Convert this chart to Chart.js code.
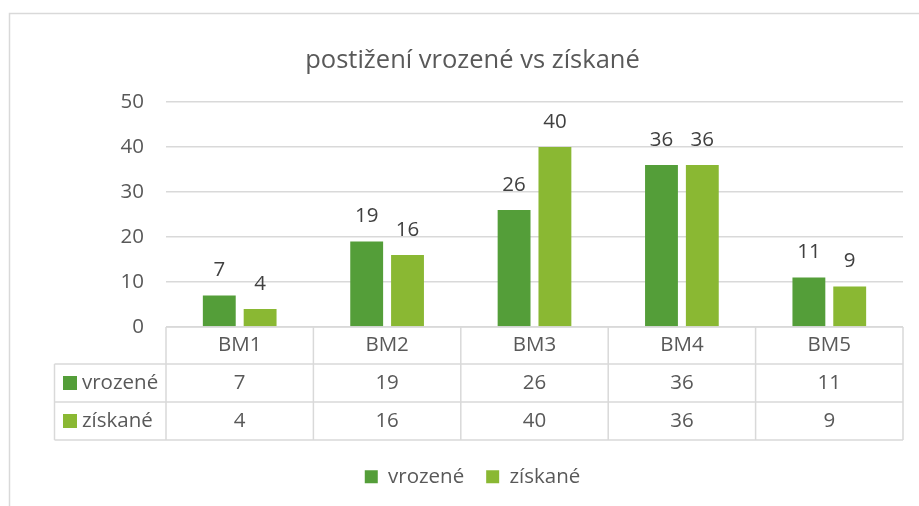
<!DOCTYPE html>
<html>
<head>
<meta charset="utf-8">
<script src="https://cdn.jsdelivr.net/npm/chart.js@4.4.1/dist/chart.umd.min.js"></script>
<style>
    html, body { margin: 0; padding: 0; background: #fff; }
    #chart-container { width: 919px; height: 506px; position: relative; }
</style>
</head>
<body>
<div id="chart-container"><canvas id="myChart"></canvas></div>
<script>
const chartTitle = 'postižení vrozené vs získané';
const categories = ['BM1', 'BM2', 'BM3', 'BM4', 'BM5'];
const seriesNames = ['vrozené', 'získané'];
const vrozeneData = [7, 19, 26, 36, 11];
const ziskaneData = [4, 16, 40, 36, 9];
const yTicks = [0, 10, 20, 30, 40, 50];

const colors = ['#549E39', '#8AB833'];
const gridColor = '#D9D9D9';
const textColor = '#595959';
const fontFamily = '"Open Sans", sans-serif';
const fontSize = 20.5;

// outer chart frame (Excel chart border)
const framePlugin = {
    id: 'frame',
    beforeDraw(chart) {
        const ctx = chart.ctx;
        ctx.save();
        ctx.fillStyle = '#fff';
        ctx.fillRect(0, 0, chart.width, chart.height);
        ctx.strokeStyle = gridColor;
        ctx.lineWidth = 1.5;
        ctx.strokeRect(9.5, 13.5, chart.width + 20, chart.height + 20);
        ctx.restore();
    }
};

// value labels above bars
const labelPlugin = {
    id: 'barLabels',
    afterDatasetsDraw(chart) {
        const ctx = chart.ctx;
        ctx.save();
        ctx.fillStyle = '#404040';
        ctx.font = `${fontSize}px ${fontFamily}`;
        ctx.textAlign = 'center';
        ctx.textBaseline = 'middle';
        chart.data.datasets.forEach((ds, di) => {
            chart.getDatasetMeta(di).data.forEach((bar, i) => {
                ctx.fillText(String(ds.data[i]), bar.x, bar.y - 25);
            });
        });
        ctx.restore();
    }
};

// data table under the plot
const tablePlugin = {
    id: 'dataTable',
    afterDraw(chart) {
        const ctx = chart.ctx;
        const x = chart.scales.x;
        const area = chart.chartArea;
        const rows = [area.bottom, area.bottom + 37, area.bottom + 75, area.bottom + 113];
        const nameLeft = 54.5;
        const n = categories.length;
        const edges = [];
        for (let i = 0; i <= n; i++) edges.push(x.getPixelForValue(i - 0.5));

        ctx.save();
        ctx.strokeStyle = gridColor;
        ctx.lineWidth = 1.5;
        ctx.beginPath();
        // horizontal lines
        ctx.moveTo(edges[0], rows[0]); ctx.lineTo(edges[n], rows[0]);
        for (let r = 1; r < rows.length; r++) {
            ctx.moveTo(nameLeft, rows[r]); ctx.lineTo(edges[n], rows[r]);
        }
        // vertical lines
        edges.forEach(e => { ctx.moveTo(e, rows[0]); ctx.lineTo(e, rows[3]); });
        ctx.moveTo(nameLeft, rows[1]); ctx.lineTo(nameLeft, rows[3]);
        ctx.stroke();

        ctx.font = `${fontSize}px ${fontFamily}`;
        ctx.fillStyle = textColor;
        ctx.textBaseline = 'middle';
        ctx.textAlign = 'center';
        categories.forEach((c, i) => {
            ctx.fillText(c, x.getPixelForValue(i), (rows[0] + rows[1]) / 2);
        });
        chart.data.datasets.forEach((ds, di) => {
            const cy = (rows[di + 1] + rows[di + 2]) / 2;
            ds.data.forEach((v, i) => {
                ctx.fillStyle = textColor;
                ctx.textAlign = 'center';
                ctx.fillText(String(v), x.getPixelForValue(i), cy);
            });
            ctx.fillStyle = ds.backgroundColor;
            ctx.fillRect(63, cy - 7, 14, 14);
            ctx.fillStyle = textColor;
            ctx.textAlign = 'left';
            ctx.fillText(ds.label, 82, cy);
        });
        ctx.restore();
    }
};

const ctx = document.getElementById('myChart').getContext('2d');
const chart = new Chart(ctx, {
    type: 'bar',
    data: {
        labels: categories,
        datasets: [
            { label: seriesNames[0], data: vrozeneData, backgroundColor: colors[0] },
            { label: seriesNames[1], data: ziskaneData, backgroundColor: colors[1] }
        ]
    },
    options: {
        responsive: true,
        maintainAspectRatio: false,
        animation: false,
        categoryPercentage: 0.554,
        barPercentage: 0.805,
        // title and legend are centred on the frame, which runs past the right edge
        layout: { padding: { left: 26, right: 0, top: 0, bottom: 9 } },
        plugins: {
            title: {
                display: true,
                text: chartTitle,
                color: textColor,
                font: { family: fontFamily, size: 25.5, weight: 'normal' },
                padding: { top: 45.7, bottom: 25.7 }
            },
            legend: {
                position: 'bottom',
                labels: {
                    boxWidth: 13,
                    boxHeight: 13,
                    padding: 22,
                    color: textColor,
                    font: { family: fontFamily, size: fontSize }
                }
            },
            tooltip: { enabled: false }
        },
        scales: {
            x: {
                grid: { display: false },
                border: { display: false },
                ticks: { display: false },
                afterFit(scale) { scale.height = 117.5; }
            },
            y: {
                min: yTicks[0],
                max: yTicks[yTicks.length - 1],
                afterBuildTicks(scale) { scale.ticks = yTicks.map(v => ({ value: v })); },
                grid: { color: gridColor, lineWidth: 1.5, drawTicks: false },
                border: { display: false },
                ticks: {
                    padding: 22,
                    color: textColor,
                    font: { family: fontFamily, size: fontSize }
                },
                afterFit(scale) { scale.width = 140; }
            },
            // empty spacer on the right so the plot ends where the reference does
            spacer: {
                type: 'linear',
                position: 'right',
                grid: { display: false },
                border: { display: false },
                ticks: { display: false },
                afterFit(scale) { scale.width = 16; }
            }
        }
    },
    plugins: [framePlugin, labelPlugin, tablePlugin]
});
</script>
</body>
</html>
